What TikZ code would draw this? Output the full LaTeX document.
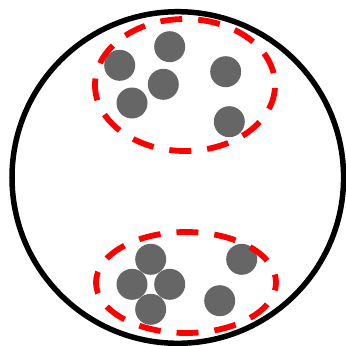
\documentclass[tikz,border=0pt]{standalone}
\begin{document}
\begin{tikzpicture}[x=1pt,y=-1pt,
  dot/.style={circle,fill=black!60,minimum size=31pt,inner sep=0pt},
  group/.style={draw=red,line width=5.8pt,dash pattern=on 22pt off 16pt},
  outer/.style={draw=black,line width=5.5pt}]
\useasboundingbox (0,0) rectangle (346,346);
\node[circle,outer,minimum size=331.6pt,inner sep=0pt] (cell) at (177.8,177.5) {};
% top cluster
\node[dot] (t1) at (119.7,65.3) {};
\node[dot] (t2) at (169.7,46.7) {};
\node[dot] (t3) at (163.3,84.3) {};
\node[dot] (t4) at (132,103) {};
\node[dot] (t5) at (225.7,71.7) {};
\node[dot] (t6) at (229.3,121.7) {};
% bottom cluster
\node[dot] (b1) at (150.7,259.3) {};
\node[dot] (b2) at (132,284.3) {};
\node[dot] (b3) at (169.7,284.3) {};
\node[dot] (b4) at (150.7,309.3) {};
\node[dot] (b5) at (241.7,259.3) {};
\node[dot] (b6) at (219.7,300.7) {};
% groups
\draw[group,dash phase=35pt] (185,85) ellipse [x radius=90, y radius=66];
\draw[group,dash phase=14pt] (186,282.5) ellipse [x radius=90, y radius=50.5];
\end{tikzpicture}
\end{document}
